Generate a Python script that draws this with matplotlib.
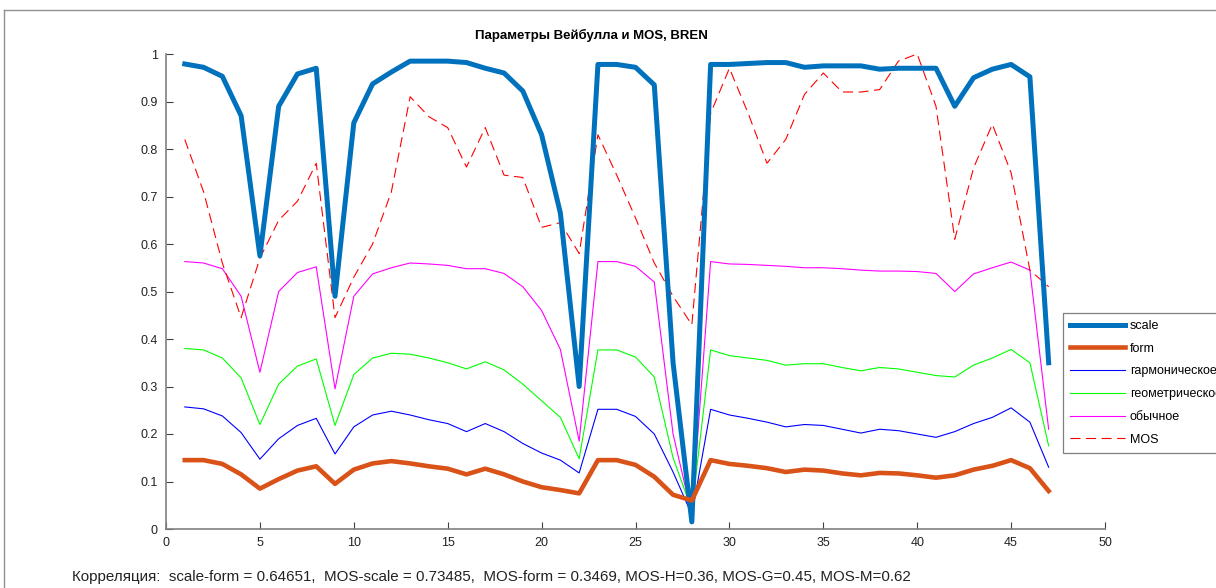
import matplotlib
matplotlib.use("Agg")
import matplotlib.pyplot as plt
from matplotlib.lines import Line2D

plt.rcParams["font.family"] = ["Liberation Sans", "DejaVu Sans"]

x = list(range(1, 48))

scale = [0.979, 0.972, 0.953, 0.870, 0.575, 0.890, 0.958, 0.970, 0.490, 0.855,
         0.937, 0.962, 0.985, 0.985, 0.985, 0.982, 0.970, 0.960, 0.922, 0.830,
         0.665, 0.300, 0.978, 0.978, 0.972, 0.935, 0.350, 0.015, 0.978, 0.978,
         0.980, 0.982, 0.982, 0.972, 0.975, 0.975, 0.975, 0.968, 0.970, 0.970,
         0.970, 0.890, 0.950, 0.968, 0.978, 0.952, 0.350]
form = [0.145, 0.145, 0.137, 0.115, 0.085, 0.105, 0.123, 0.132, 0.095, 0.125,
        0.138, 0.143, 0.138, 0.132, 0.127, 0.115, 0.127, 0.115, 0.100, 0.088,
        0.082, 0.075, 0.145, 0.145, 0.135, 0.110, 0.072, 0.060, 0.145, 0.137,
        0.133, 0.128, 0.120, 0.125, 0.123, 0.117, 0.113, 0.118, 0.117, 0.113,
        0.108, 0.113, 0.125, 0.133, 0.145, 0.128, 0.080]
garm = [0.257, 0.253, 0.238, 0.203, 0.147, 0.190, 0.218, 0.233, 0.158, 0.215,
        0.240, 0.248, 0.240, 0.230, 0.222, 0.205, 0.222, 0.205, 0.180, 0.160,
        0.145, 0.118, 0.252, 0.252, 0.237, 0.200, 0.120, 0.030, 0.252, 0.240,
        0.233, 0.225, 0.215, 0.220, 0.218, 0.210, 0.202, 0.210, 0.207, 0.200,
        0.193, 0.205, 0.222, 0.235, 0.255, 0.225, 0.130]
geom = [0.380, 0.377, 0.360, 0.318, 0.220, 0.305, 0.343, 0.358, 0.218, 0.325,
        0.360, 0.370, 0.368, 0.360, 0.350, 0.337, 0.352, 0.335, 0.305, 0.270,
        0.235, 0.148, 0.377, 0.377, 0.362, 0.320, 0.150, 0.040, 0.377, 0.365,
        0.360, 0.355, 0.345, 0.348, 0.348, 0.340, 0.333, 0.340, 0.337, 0.330,
        0.323, 0.320, 0.345, 0.360, 0.378, 0.350, 0.175]
obych = [0.563, 0.560, 0.548, 0.490, 0.330, 0.500, 0.540, 0.552, 0.295, 0.490,
         0.537, 0.550, 0.560, 0.558, 0.555, 0.548, 0.548, 0.538, 0.510, 0.460,
         0.378, 0.185, 0.563, 0.563, 0.553, 0.520, 0.200, 0.030, 0.563, 0.558,
         0.557, 0.555, 0.553, 0.550, 0.550, 0.548, 0.545, 0.543, 0.543, 0.542,
         0.538, 0.500, 0.537, 0.550, 0.562, 0.545, 0.210]
mos = [0.820, 0.710, 0.560, 0.445, 0.570, 0.650, 0.690, 0.770, 0.445, 0.530,
       0.600, 0.710, 0.910, 0.868, 0.845, 0.762, 0.845, 0.745, 0.740, 0.635,
       0.645, 0.580, 0.830, 0.745, 0.655, 0.560, 0.490, 0.430, 0.875, 0.970,
       0.875, 0.770, 0.820, 0.915, 0.960, 0.920, 0.920, 0.925, 0.985, 1.000,
       0.890, 0.610, 0.760, 0.852, 0.750, 0.545, 0.510]

labels = ["scale", "form", "гармоническое", "геометрическое", "обычное", "MOS"]
title = "Параметры Вейбулла и MOS, BREN"
note = ("Корреляция:  scale-form = 0.64651,  MOS-scale = 0.73485,  MOS-form = 0.3469, "
        "MOS-H=0.36, MOS-G=0.45, MOS-M=0.62")

W, H = 1216, 588
fig = plt.figure(figsize=(W / 100, H / 100), dpi=100)
ax = fig.add_axes([166 / W, 1 - 529 / H, (1105 - 166) / W, (529 - 54) / H])

ax.plot(x, scale, color="#0072BD", lw=3.6, label=labels[0], zorder=3)
ax.plot(x, form, color="#D95319", lw=3.3, label=labels[1], zorder=3)
ax.plot(x, garm, color="#0000FF", lw=0.8, label=labels[2])
ax.plot(x, geom, color="#00FF00", lw=0.8, label=labels[3])
ax.plot(x, obych, color="#FF00FF", lw=0.8, label=labels[4])
ax.plot(x, mos, color="#FF0000", lw=0.8, ls=(0, (9, 5)), label=labels[5])

ax.set_xlim(0, 50)
ax.set_ylim(0, 1)
ax.set_xticks(range(0, 51, 5))
ax.set_yticks([i / 10 for i in range(11)])
ax.set_yticklabels(["0", "0.1", "0.2", "0.3", "0.4", "0.5", "0.6", "0.7", "0.8", "0.9", "1"])
for s in ["top", "right"]:
    ax.spines[s].set_visible(False)
for s in ["left", "bottom"]:
    ax.spines[s].set_color("#808080")
    ax.spines[s].set_linewidth(1.2)
ax.tick_params(direction="in", length=5, width=0.8, color="#404040",
               labelsize=9, labelcolor="#222222", pad=6)

fig.text(591 / W, 1 - 35 / H, title, ha="center", va="center",
         fontsize=9.5, fontweight="bold")
fig.text(72 / W, 1 - 577 / H, note, ha="left", va="center", fontsize=10.9,
         color="#222222")

# legend runs past the right edge of the figure, as in the original
leg = ax.legend(loc="upper left", bbox_to_anchor=(1063 / W, 1 - 313 / H),
                bbox_transform=fig.transFigure, borderaxespad=0, fontsize=9,
                frameon=True, fancybox=False, handlelength=4.4, handletextpad=0.4,
                labelspacing=0.86, borderpad=0.55)
leg.get_frame().set_edgecolor("#606060")
leg.get_frame().set_linewidth(0.9)

# frame around the whole figure
fig.add_artist(Line2D([4 / W, 4 / W], [0, 1 - 10 / H], transform=fig.transFigure,
                      color="#909090", lw=1))
fig.add_artist(Line2D([4 / W, 1], [1 - 10 / H, 1 - 10 / H], transform=fig.transFigure,
                      color="#909090", lw=1))

fig.savefig("out.png", dpi=100)
